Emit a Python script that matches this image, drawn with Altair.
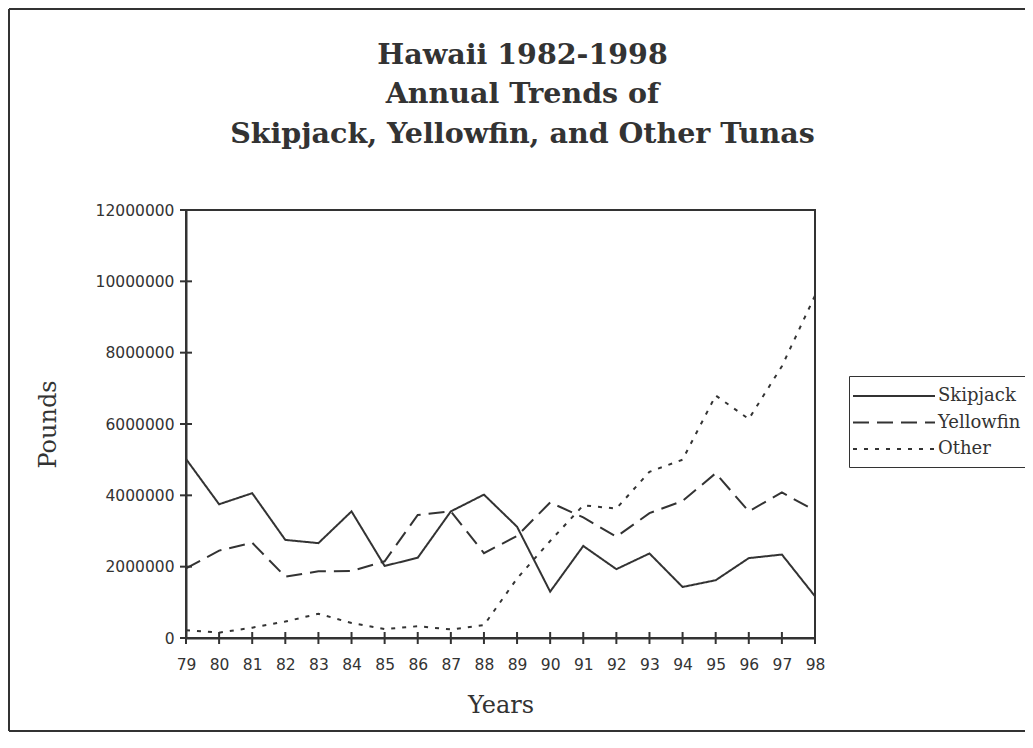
import altair as alt
import pandas as pd

years = list(range(79, 99))
series = ["Skipjack", "Yellowfin", "Other"]
skipjack = [5020000, 3750000, 4060000, 2750000, 2660000, 3550000, 2020000, 2250000, 3550000, 4020000,
            3120000, 1300000, 2580000, 1930000, 2370000, 1430000, 1620000, 2240000, 2340000, 1170000]
yellowfin = [1950000, 2450000, 2670000, 1720000, 1870000, 1880000, 2150000, 3450000, 3550000, 2380000,
             2860000, 3800000, 3380000, 2840000, 3500000, 3840000, 4620000, 3550000, 4080000, 3570000]
other = [220000, 150000, 290000, 460000, 680000, 420000, 250000, 330000, 240000, 360000,
         1670000, 2720000, 3720000, 3630000, 4660000, 5000000, 6800000, 6140000, 7620000, 9600000]
y_ticks = [0, 2000000, 4000000, 6000000, 8000000, 10000000, 12000000]

rows = []
for name, vals in zip(series, [skipjack, yellowfin, other]):
    for yr, v in zip(years, vals):
        rows.append({"Year": yr, "Pounds": v, "Series": name})
df = pd.DataFrame(rows)

INK = "#333333"
SERIF = "DejaVu Serif"
SANS = "DejaVu Sans"

xscale = alt.Scale(domain=[79, 98], nice=False, zero=False)
yscale = alt.Scale(domain=[0, 12000000], nice=False)
xaxis = alt.Axis(values=years, format="d", title="Years", grid=False,
                 ticks=False, tickSize=0, labelFlush=False, labelOverlap=False)
yaxis = alt.Axis(values=y_ticks, format="d", title="Pounds", grid=False,
                 ticks=False, tickSize=0, labelOverlap=False)

lines = alt.Chart(df).mark_line(strokeWidth=2, color=INK).encode(
    x=alt.X("Year:Q", scale=xscale, axis=xaxis),
    y=alt.Y("Pounds:Q", scale=yscale, axis=yaxis),
    strokeDash=alt.StrokeDash("Series:N",
                              scale=alt.Scale(domain=series, range=[[1, 0], [16, 8], [4, 7]]),
                              legend=alt.Legend(title=None, orient="none", legendX=663, legendY=166)),
)

# tick marks crossing the axes (as in the original)
xt = alt.Chart(pd.DataFrame({"Year": years, "Pounds": [0] * len(years)})).mark_point(
    shape="M0,-1V1", size=144, strokeWidth=2, color=INK, filled=False, opacity=1).encode(
    x=alt.X("Year:Q", scale=xscale, axis=xaxis), y=alt.Y("Pounds:Q", scale=yscale, axis=yaxis))
yt = alt.Chart(pd.DataFrame({"Pounds": y_ticks, "Year": [79] * len(y_ticks)})).mark_point(
    shape="M-1,0H1", size=144, strokeWidth=2, color=INK, filled=False, opacity=1).encode(
    y=alt.Y("Pounds:Q", scale=yscale, axis=yaxis), x=alt.X("Year:Q", scale=xscale, axis=xaxis))

# page frame (left, top, bottom edges)
one = pd.DataFrame({"a": [0]})
frame_left = alt.Chart(one).mark_rule(color=INK, strokeWidth=2).encode(
    x=alt.value(-177), y=alt.value(-201), y2=alt.value(521))
frame_top = alt.Chart(one).mark_rule(color=INK, strokeWidth=2).encode(
    x=alt.value(-177), x2=alt.value(850), y=alt.value(-201))
frame_bottom = alt.Chart(one).mark_rule(color=INK, strokeWidth=2).encode(
    x=alt.value(-177), x2=alt.value(850), y=alt.value(521))

chart = alt.layer(frame_left, frame_top, frame_bottom, lines, xt, yt).properties(
    width=629, height=428,
    title=alt.Title(
        text=["Hawaii 1982-1998", "Annual Trends of", "Skipjack, Yellowfin, and Other Tunas"],
        font=SERIF, fontSize=28.5, fontWeight="bold", color=INK, lineHeight=39.5,
        anchor="middle", frame="group", dx=22, baseline="bottom", offset=-169,
    ),
    autosize=alt.AutoSizeParams(type="none"),
    padding={"left": 178, "top": 202, "right": 210, "bottom": 95},
).configure_view(stroke=INK, strokeWidth=2).configure_axis(
    domainColor=INK, domainWidth=2,
    labelFont=SANS, labelFontSize=15.5, labelColor=INK,
    titleFont=SERIF, titleFontSize=24, titleFontWeight="normal", titleColor=INK,
).configure_axisX(labelPadding=19, titlePadding=21, labelOverlap=False, labelFlush=False).configure_axisY(
    labelPadding=12, titlePadding=35, labelOverlap=False).configure_legend(
    strokeColor=INK, strokeWidth=1, padding=9, fillColor="white",
    symbolType="M-4.1,0H4.1", symbolSize=400, symbolOffset=25, symbolStrokeWidth=2, symbolStrokeColor=INK,
    labelFont=SERIF, labelFontSize=18, labelColor=INK, labelOffset=33, rowPadding=6.5,
)

chart.save("out.html", embed_options={"renderer": "svg", "actions": False})
